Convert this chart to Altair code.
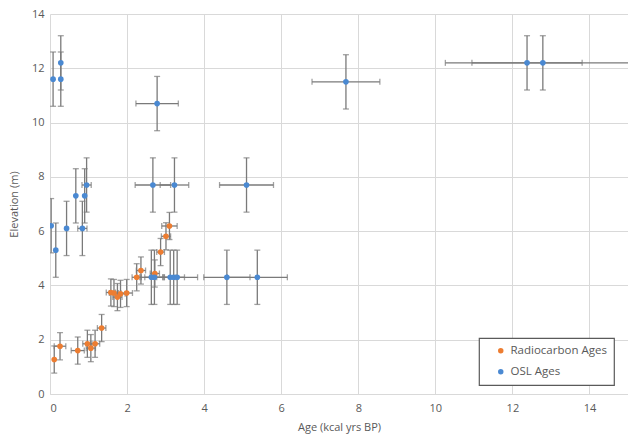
import altair as alt
import pandas as pd

# Radiocarbon ages (orange)
rc_age = [0.11, 0.26, 0.72, 0.97, 1.06, 1.17, 1.34, 1.58, 1.66, 1.75, 1.83, 1.99, 2.25, 2.36, 2.72, 2.87, 3.01, 3.10]
rc_elev = [1.27, 1.76, 1.60, 1.85, 1.69, 1.85, 2.43, 3.74, 3.72, 3.57, 3.69, 3.72, 4.30, 4.55, 4.44, 5.23, 5.81, 6.19]
rc_age_err = [0.0, 0.15, 0.17, 0.12, 0.12, 0.12, 0.11, 0.12, 0.12, 0.12, 0.12, 0.15, 0.12, 0.12, 0.12, 0.10, 0.12, 0.20]
rc_elev_err = [0.5] * 18

# OSL ages (blue)
osl_age = [0.08, 0.28, 0.28, 2.78, 7.68, 12.38, 12.79, 0.03, 0.15, 0.43, 0.67, 0.90, 0.95, 0.84,
           2.67, 3.23, 5.10, 2.63, 2.71, 3.12, 3.21, 3.30, 4.59, 5.38]
osl_elev = [11.6, 12.2, 11.6, 10.7, 11.5, 12.2, 12.2, 6.2, 5.3, 6.1, 7.3, 7.3, 7.7, 6.1,
            7.7, 7.7, 7.7, 4.3, 4.3, 4.3, 4.3, 4.3, 4.3, 4.3]
osl_age_err = [0.0, 0.0, 0.0, 0.55, 0.88, 1.43, 2.53, 0.0, 0.0, 0.0, 0.0, 0.0, 0.12, 0.12,
               0.46, 0.37, 0.70, 0.30, 0.25, 0.15, 0.28, 0.53, 0.60, 0.78]
osl_elev_err = [1.0] * 24

series_names = ["Radiocarbon Ages", "OSL Ages"]
series_colors = ["#ED7D31", "#4A89D2"]

rows = []
for name, xs, ys, xe, ye in [
    (series_names[0], rc_age, rc_elev, rc_age_err, rc_elev_err),
    (series_names[1], osl_age, osl_elev, osl_age_err, osl_elev_err),
]:
    for x, y, dx, dy in zip(xs, ys, xe, ye):
        rows.append(dict(series=name, x=x, y=y, xlo=x - dx, xhi=x + dx,
                         ylo=y - dy, yhi=y + dy, dx=dx))
df = pd.DataFrame(rows)

err_color = "#7a7a7a"
xs = alt.Scale(domain=[0, 15], nice=False)
ys = alt.Scale(domain=[0, 14], nice=False)

base = alt.Chart(df)

xaxis = alt.Axis(values=[0, 2, 4, 6, 8, 10, 12, 14], title="Age (kcal yrs BP)",
                 grid=True, labelPadding=8, titlePadding=8)
yaxis = alt.Axis(values=[0, 2, 4, 6, 8, 10, 12, 14], title="Elevation (m)",
                 grid=True, labelPadding=6, titlePadding=12, domain=False)

v_rule = base.mark_rule(color=err_color, strokeWidth=1.3, clip=True).encode(
    x=alt.X("x:Q", scale=xs, axis=xaxis),
    y=alt.Y("ylo:Q", scale=ys, axis=yaxis),
    y2="yhi:Q",
)
v_cap_lo = base.mark_tick(color=err_color, orient="horizontal", size=6, thickness=1.3, clip=True).encode(
    x=alt.X("x:Q", scale=xs), y=alt.Y("ylo:Q", scale=ys))
v_cap_hi = base.mark_tick(color=err_color, orient="horizontal", size=6, thickness=1.3, clip=True).encode(
    x=alt.X("x:Q", scale=xs), y=alt.Y("yhi:Q", scale=ys))

hbase = base.transform_filter("datum.dx > 0")
h_rule = hbase.mark_rule(color=err_color, strokeWidth=1.3, clip=True).encode(
    x=alt.X("xlo:Q", scale=xs), x2="xhi:Q", y=alt.Y("y:Q", scale=ys))
h_cap_lo = hbase.mark_tick(color=err_color, orient="vertical", size=6, thickness=1.3, clip=True).encode(
    x=alt.X("xlo:Q", scale=xs), y=alt.Y("y:Q", scale=ys))
h_cap_hi = hbase.mark_tick(color=err_color, orient="vertical", size=6, thickness=1.3, clip=True).encode(
    x=alt.X("xhi:Q", scale=xs), y=alt.Y("y:Q", scale=ys))

points = base.mark_circle(size=32, opacity=1, clip=True).encode(
    x=alt.X("x:Q", scale=xs),
    y=alt.Y("y:Q", scale=ys),
    color=alt.Color("series:N",
                    scale=alt.Scale(domain=series_names, range=series_colors),
                    legend=alt.Legend(title=None, orient="none", legendX=429, legendY=324,
                                      symbolType="circle", symbolSize=30,
                                      labelFontSize=11.5, labelColor="#595959",
                                      labelFont="Open Sans",
                                      padding=7, symbolOffset=9, rowPadding=8,
                                      strokeColor="#5a5a5a", fillColor="white")),
    order=alt.Order("series:N", sort="descending"),
)

chart = alt.layer(v_rule, v_cap_lo, v_cap_hi, h_rule, h_cap_lo, h_cap_hi, points).properties(
    width=578, height=380,
    autosize=alt.AutoSizeParams(type="none"),
    padding={"left": 50, "top": 14, "right": 0, "bottom": 45},
).configure_view(stroke=None).configure_axis(
    gridColor="#d9d9d9", gridWidth=1, ticks=False,
    domainColor="#d9d9d9", labelColor="#595959", titleColor="#595959",
    labelFont="Open Sans", titleFont="Open Sans", labelFontSize=11, titleFontSize=11,
    titleFontWeight="normal",
).configure_legend(strokeWidth=1.2)

chart.save("out.html", embed_options={"renderer": "svg", "actions": False})
